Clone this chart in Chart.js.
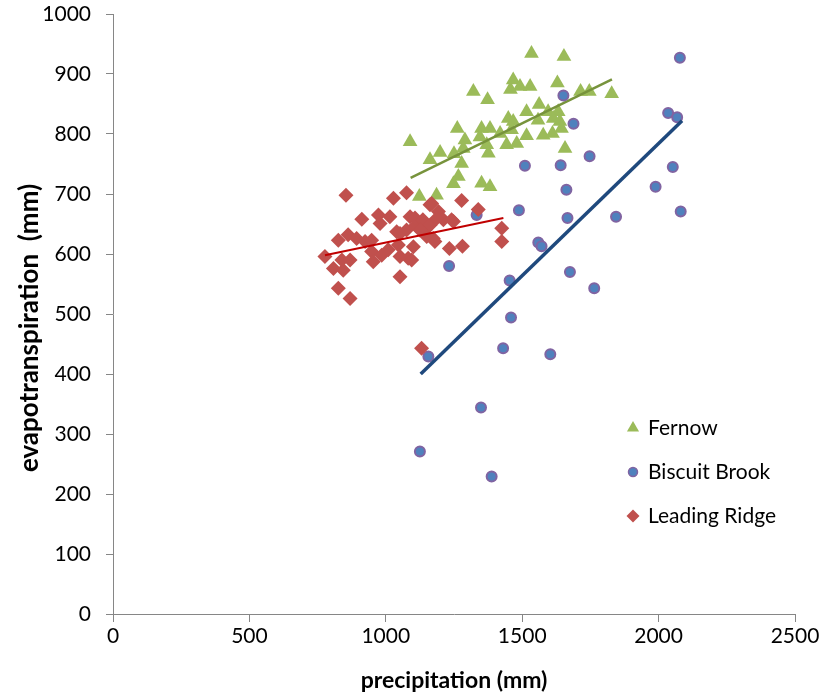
<!DOCTYPE html>
<html>
<head>
<meta charset="utf-8">
<script src="https://cdn.jsdelivr.net/npm/chart.js@4.4.0/dist/chart.umd.min.js"></script>
<style>
  html, body { margin: 0; padding: 0; background: #fff; }
  #wrap { width: 823px; height: 695px; }
</style>
</head>
<body>
<div id="wrap"><canvas id="chart" width="823" height="695"></canvas></div>
<script>
// precipitation (mm) / evapotranspiration (mm)
const fernowX = [1534, 1653, 1467, 1492, 1529, 1457, 1629, 1321, 1373, 1714, 1746, 1828,
  1562, 1516, 1595, 1632, 1449, 1467, 1558, 1614, 1638, 1262, 1351, 1382, 1419, 1461,
  1516, 1577, 1611, 1644, 1089, 1290, 1370, 1443, 1480, 1657, 1199, 1162, 1250, 1284,
  1376, 1278, 1266, 1248, 1351, 1382, 1123, 1186, 1345];
const fernowY = [934, 929, 890, 879, 879, 874, 885, 871, 857, 871, 871, 867,
  849, 837, 837, 837, 826, 821, 823, 826, 821, 809, 809, 809, 801, 807,
  797, 798, 801, 809, 787, 790, 782, 782, 784, 776, 769, 757, 767, 776,
  768, 751, 729, 717, 718, 712, 696, 698, 795];

const biscuitX = [2078, 2035, 2068, 2052, 1989, 2081, 1844, 1764, 1747, 1688, 1651, 1510,
  1641, 1662, 1488, 1666, 1559, 1571, 1675, 1454, 1459, 1430, 1603, 1156, 1349, 1125,
  1388, 1333, 1232];
const biscuitY = [927, 835, 828, 745, 712, 671, 662, 543, 763, 817, 864, 747,
  748, 707, 673, 660, 619, 613, 570, 556, 494, 443, 433, 429, 344, 271,
  229, 665, 580];

const leadingX = [854, 1028, 1076, 912, 973, 1015, 979, 1089, 1076, 1040, 826, 862, 893,
  924, 948, 777, 808, 839, 869, 844, 948, 954, 985, 1009, 1046, 1052, 1082, 1052, 826,
  869, 1101, 1110, 1278, 1339, 1162, 1193, 1248, 1211, 1425, 1425, 1233, 1281, 1174,
  1144, 1095, 1107, 1136, 1162, 1186, 1241, 1150, 1180, 1125, 1052, 1131, 1168];
const leadingY = [698, 693, 702, 658, 665, 662, 651, 662, 640, 637, 623, 632, 626,
  621, 623, 596, 576, 590, 590, 573, 604, 587, 598, 607, 615, 596, 593, 562, 543,
  526, 612, 648, 689, 674, 682, 671, 654, 657, 643, 621, 609, 613, 626,
  640, 590, 660, 657, 648, 659, 657, 629, 621, 640, 634, 443, 684];

// linear trend lines (end points)
const fernowTrendX = [1091, 1829];
const fernowTrendY = [727, 891];
const biscuitTrendX = [1128, 2086];
const biscuitTrendY = [400, 822];
const leadingTrendX = [777, 1431];
const leadingTrendY = [598, 660];

const xTicks = [0, 500, 1000, 1500, 2000, 2500];
const yTicks = [0, 100, 200, 300, 400, 500, 600, 700, 800, 900, 1000];

const FONT = 'Lato, "Open Sans", sans-serif';

function pts(xs, ys) {
  return xs.map((x, i) => ({ x: x, y: ys[i] }));
}

const green = '#9BBB59';
const blue = '#4F81BD';
const purple = '#8064A2';
const red = '#C0504D';

const series = [
  { label: 'Fernow', style: 'triangle', fill: green, border: green, radius: 7, bw: 0 },
  { label: 'Biscuit Brook', style: 'circle', fill: blue, border: purple, radius: 4.5, bw: 1.5 },
  { label: 'Leading Ridge', style: 'rectRot', fill: red, border: red, radius: 6.5, bw: 0 }
];

// legend drawn inside the plot area, markers only (no trend lines)
const insideLegend = {
  id: 'insideLegend',
  afterDraw(chart) {
    const ctx = chart.ctx;
    const x0 = 633, y0 = 428, step = 44;
    ctx.save();
    ctx.font = '21px ' + FONT;
    ctx.textBaseline = 'middle';
    series.forEach((s, i) => {
      const y = y0 + i * step;
      ctx.fillStyle = s.fill;
      ctx.strokeStyle = s.border;
      ctx.lineWidth = s.bw;
      Chart.helpers.drawPoint(ctx, { pointStyle: s.style, radius: s.radius, borderWidth: s.bw }, x0, y);
      ctx.fillStyle = '#000';
      ctx.fillText(s.label, x0 + 15, y);
    });
    ctx.restore();
  }
};

// y axis title, placed a little below the plot centre like the original
const yTitle = {
  id: 'yTitle',
  afterDraw(chart) {
    const ctx = chart.ctx;
    ctx.save();
    ctx.translate(30, 328);
    ctx.rotate(-Math.PI / 2);
    ctx.font = 'bold 26px ' + FONT;
    ctx.fillStyle = '#000';
    ctx.textAlign = 'center';
    ctx.textBaseline = 'middle';
    ctx.fillText('evapotranspiration  (mm)', 0, 0);
    ctx.restore();
  }
};

const ctx = document.getElementById('chart').getContext('2d');
new Chart(ctx, {
  type: 'scatter',
  data: {
    datasets: [
      { label: 'Fernow', data: pts(fernowX, fernowY), pointStyle: 'triangle',
        pointRadius: 8.5, pointBackgroundColor: green, pointBorderColor: green, pointBorderWidth: 0, order: 5 },
      { label: 'Fernow trend', type: 'line', data: pts(fernowTrendX, fernowTrendY),
        borderColor: '#77933C', borderWidth: 2.5, pointRadius: 0, fill: false, order: 4 },
      { label: 'Biscuit Brook', data: pts(biscuitX, biscuitY), pointStyle: 'circle',
        pointRadius: 5, pointBackgroundColor: blue, pointBorderColor: purple, pointBorderWidth: 2, order: 3 },
      { label: 'Biscuit Brook trend', type: 'line', data: pts(biscuitTrendX, biscuitTrendY),
        borderColor: '#1F497D', borderWidth: 3.5, pointRadius: 0, fill: false, order: 2 },
      { label: 'Leading Ridge', data: pts(leadingX, leadingY), pointStyle: 'rectRot',
        pointRadius: 7.5, pointBackgroundColor: red, pointBorderColor: red, pointBorderWidth: 0, order: 1 },
      { label: 'Leading Ridge trend', type: 'line', data: pts(leadingTrendX, leadingTrendY),
        borderColor: '#C00000', borderWidth: 2, pointRadius: 0, fill: false, order: 0 }
    ]
  },
  options: {
    responsive: false,
    animation: false,
    layout: { padding: { top: 14, right: 28, left: 0, bottom: 0 } },
    plugins: {
      legend: { display: false },
      tooltip: { enabled: false }
    },
    scales: {
      x: {
        type: 'linear',
        min: 0, max: 2500,
        afterBuildTicks: (s) => { s.ticks = xTicks.map(v => ({ value: v })); },
        afterFit: (s) => { s.height = 81; s.paddingLeft = 0; s.paddingRight = 0; },
        grid: { display: true, drawOnChartArea: false, drawTicks: true, tickLength: 8, color: '#868686' },
        border: { display: true, color: '#868686', width: 1 },
        ticks: { font: { family: FONT, size: 21 }, color: '#000', padding: 2, maxRotation: 0,
          callback: (v) => String(v) },
        title: { display: true, text: 'precipitation (mm)', font: { family: FONT, size: 23, weight: 'bold' }, color: '#000', padding: { top: 1, bottom: 1 } }
      },
      y: {
        type: 'linear',
        min: 0, max: 1000,
        afterBuildTicks: (s) => { s.ticks = yTicks.map(v => ({ value: v })); },
        afterFit: (s) => { s.width = 113; s.paddingTop = 0; s.paddingBottom = 0; },
        grid: { display: true, drawOnChartArea: false, drawTicks: true, tickLength: 7, color: '#868686' },
        border: { display: true, color: '#868686', width: 1 },
        ticks: { font: { family: FONT, size: 21 }, color: '#000', padding: 15,
          callback: (v) => String(v) },
        title: { display: false }
      }
    }
  },
  plugins: [insideLegend, yTitle]
});
</script>
</body>
</html>
